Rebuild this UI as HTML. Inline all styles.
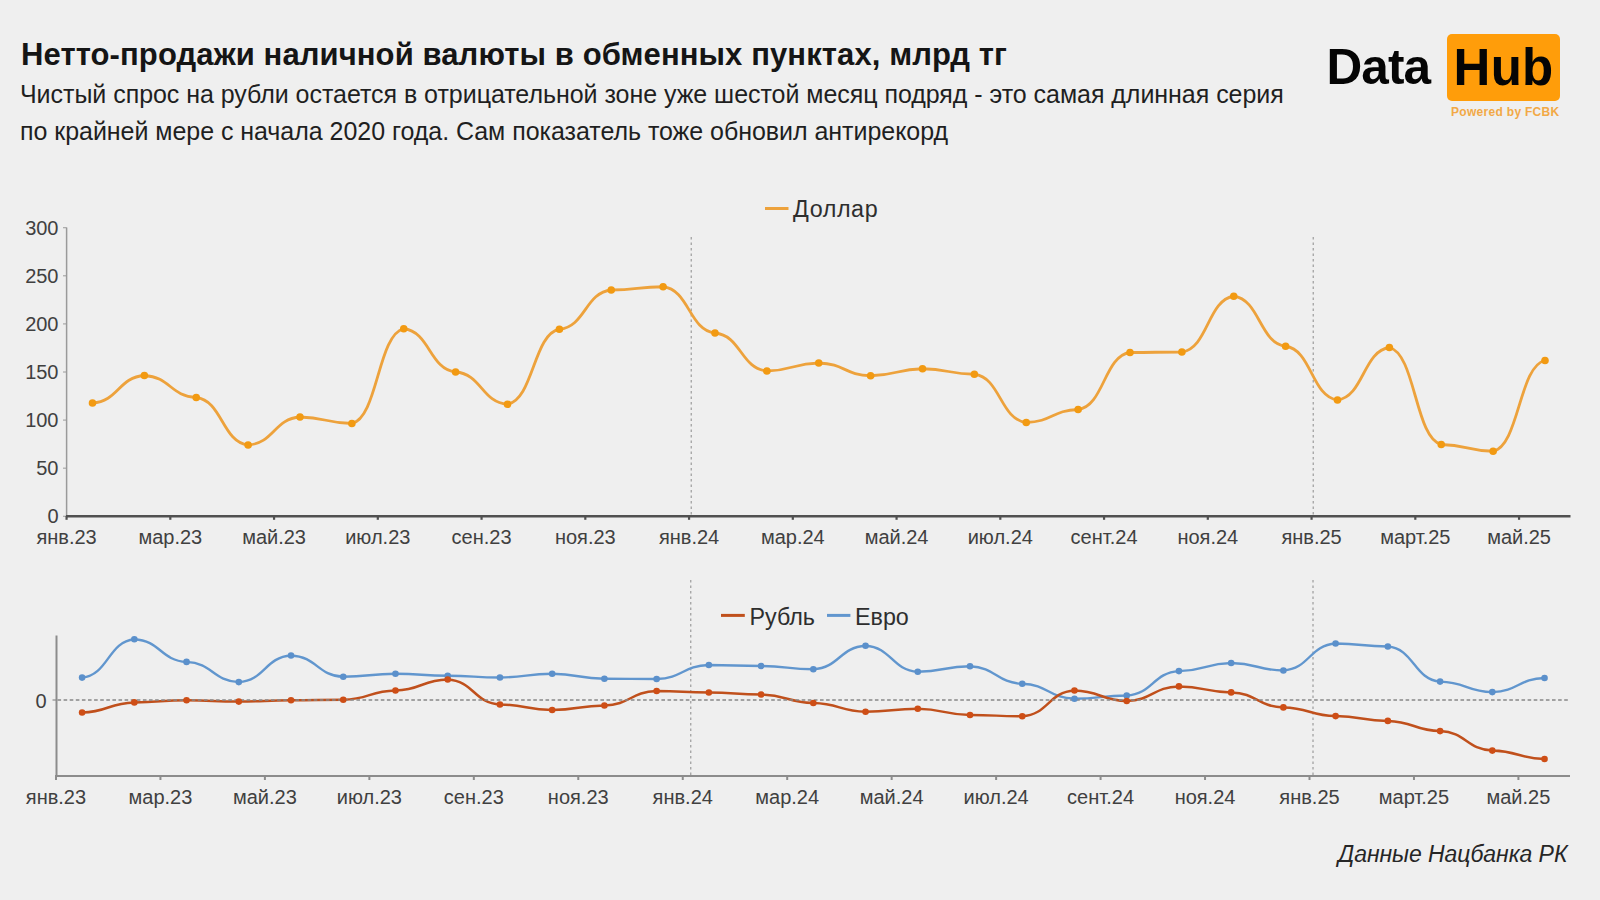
<!DOCTYPE html>
<html><head><meta charset="utf-8"><style>
html,body{margin:0;padding:0;}
body{width:1600px;height:900px;background:#efefef;position:relative;overflow:hidden;font-family:"Liberation Sans",sans-serif;}
.t{position:absolute;white-space:nowrap;}
#title{left:21px;top:39.2px;font-size:31px;letter-spacing:0.1px;line-height:1;font-weight:bold;color:#151515;}
#sub{left:20px;top:76.1px;font-size:25px;letter-spacing:-0.04px;color:#1f1f1f;line-height:37px;}
#src{left:1338px;top:842.5px;letter-spacing:-0.05px;font-size:23px;line-height:1;font-style:italic;color:#262626;}
svg{position:absolute;left:0;top:0;}
.ax{font-family:"Liberation Sans",sans-serif;font-size:20px;fill:#404040;}
.lg{font-family:"Liberation Sans",sans-serif;font-size:23.3px;fill:#2e2e2e;}
#logo1{left:1326.5px;top:41.9px;line-height:1;font-size:49.5px;letter-spacing:-0.9px;font-weight:bold;color:#050505;}
#hubbox{position:absolute;left:1446.5px;top:33.7px;width:113.5px;height:67px;background:#ff9d0a;border-radius:5px;}
#logo2{left:1453.5px;top:41.9px;line-height:1;font-size:51px;letter-spacing:0.3px;font-weight:bold;color:#050505;}
#pw{left:1451px;top:105.7px;line-height:1;font-size:12px;font-weight:bold;color:#f2a946;letter-spacing:0.3px;}
</style></head><body>
<div class="t" id="title">Нетто-продажи наличной валюты в обменных пунктах, млрд тг</div>
<div class="t" id="sub">Чистый спрос на рубли остается в отрицательной зоне уже шестой месяц подряд - это самая длинная серия<br>по крайней мере с начала 2020 года. Сам показатель тоже обновил антирекорд</div>
<div class="t" id="logo1">Data</div>
<div id="hubbox"></div>
<div class="t" id="logo2">Hub</div>
<div class="t" id="pw">Powered by FCBK</div>
<svg width="1600" height="900" viewBox="0 0 1600 900">
<line x1="66.6" y1="227.5" x2="66.6" y2="516" stroke="#9a9a9a" stroke-width="1.5"/>
<line x1="63" y1="516.25" x2="66.6" y2="516.25" stroke="#9a9a9a" stroke-width="1"/>
<text x="58.5" y="523.45" text-anchor="end" class="ax">0</text>
<line x1="63" y1="468.17" x2="66.6" y2="468.17" stroke="#9a9a9a" stroke-width="1"/>
<text x="58.5" y="475.37" text-anchor="end" class="ax">50</text>
<line x1="63" y1="420.08" x2="66.6" y2="420.08" stroke="#9a9a9a" stroke-width="1"/>
<text x="58.5" y="427.28" text-anchor="end" class="ax">100</text>
<line x1="63" y1="372.00" x2="66.6" y2="372.00" stroke="#9a9a9a" stroke-width="1"/>
<text x="58.5" y="379.19" text-anchor="end" class="ax">150</text>
<line x1="63" y1="323.91" x2="66.6" y2="323.91" stroke="#9a9a9a" stroke-width="1"/>
<text x="58.5" y="331.11" text-anchor="end" class="ax">200</text>
<line x1="63" y1="275.82" x2="66.6" y2="275.82" stroke="#9a9a9a" stroke-width="1"/>
<text x="58.5" y="283.02" text-anchor="end" class="ax">250</text>
<line x1="63" y1="227.74" x2="66.6" y2="227.74" stroke="#9a9a9a" stroke-width="1"/>
<text x="58.5" y="234.94" text-anchor="end" class="ax">300</text>
<line x1="691.2" y1="237" x2="691.2" y2="515" stroke="#8a8a8a" stroke-width="1" stroke-dasharray="2.5,3"/>
<line x1="1313.2" y1="237" x2="1313.2" y2="515" stroke="#8a8a8a" stroke-width="1" stroke-dasharray="2.5,3"/>
<line x1="66" y1="516.25" x2="1570.5" y2="516.25" stroke="#505050" stroke-width="2.5"/>
<line x1="66.56" y1="516" x2="66.56" y2="519.8" stroke="#505050" stroke-width="2.2"/>
<text x="66.56" y="544.3" text-anchor="middle" class="ax">янв.23</text>
<line x1="170.31" y1="516" x2="170.31" y2="519.8" stroke="#505050" stroke-width="2.2"/>
<text x="170.31" y="544.3" text-anchor="middle" class="ax">мар.23</text>
<line x1="274.06" y1="516" x2="274.06" y2="519.8" stroke="#505050" stroke-width="2.2"/>
<text x="274.06" y="544.3" text-anchor="middle" class="ax">май.23</text>
<line x1="377.81" y1="516" x2="377.81" y2="519.8" stroke="#505050" stroke-width="2.2"/>
<text x="377.81" y="544.3" text-anchor="middle" class="ax">июл.23</text>
<line x1="481.56" y1="516" x2="481.56" y2="519.8" stroke="#505050" stroke-width="2.2"/>
<text x="481.56" y="544.3" text-anchor="middle" class="ax">сен.23</text>
<line x1="585.31" y1="516" x2="585.31" y2="519.8" stroke="#505050" stroke-width="2.2"/>
<text x="585.31" y="544.3" text-anchor="middle" class="ax">ноя.23</text>
<line x1="689.06" y1="516" x2="689.06" y2="519.8" stroke="#505050" stroke-width="2.2"/>
<text x="689.06" y="544.3" text-anchor="middle" class="ax">янв.24</text>
<line x1="792.81" y1="516" x2="792.81" y2="519.8" stroke="#505050" stroke-width="2.2"/>
<text x="792.81" y="544.3" text-anchor="middle" class="ax">мар.24</text>
<line x1="896.56" y1="516" x2="896.56" y2="519.8" stroke="#505050" stroke-width="2.2"/>
<text x="896.56" y="544.3" text-anchor="middle" class="ax">май.24</text>
<line x1="1000.31" y1="516" x2="1000.31" y2="519.8" stroke="#505050" stroke-width="2.2"/>
<text x="1000.31" y="544.3" text-anchor="middle" class="ax">июл.24</text>
<line x1="1104.06" y1="516" x2="1104.06" y2="519.8" stroke="#505050" stroke-width="2.2"/>
<text x="1104.06" y="544.3" text-anchor="middle" class="ax">сент.24</text>
<line x1="1207.81" y1="516" x2="1207.81" y2="519.8" stroke="#505050" stroke-width="2.2"/>
<text x="1207.81" y="544.3" text-anchor="middle" class="ax">ноя.24</text>
<line x1="1311.56" y1="516" x2="1311.56" y2="519.8" stroke="#505050" stroke-width="2.2"/>
<text x="1311.56" y="544.3" text-anchor="middle" class="ax">янв.25</text>
<line x1="1415.31" y1="516" x2="1415.31" y2="519.8" stroke="#505050" stroke-width="2.2"/>
<text x="1415.31" y="544.3" text-anchor="middle" class="ax">март.25</text>
<line x1="1519.06" y1="516" x2="1519.06" y2="519.8" stroke="#505050" stroke-width="2.2"/>
<text x="1519.06" y="544.3" text-anchor="middle" class="ax">май.25</text>
<path d="M92.50,403.00 C118.44,401.35 118.44,377.15 144.38,375.50 C170.31,376.82 170.31,396.18 196.25,397.50 C222.19,400.35 222.19,442.15 248.12,445.00 C274.06,443.32 274.06,418.68 300.00,417.00 C325.94,417.39 325.94,423.11 351.88,423.50 C377.81,417.81 377.81,334.44 403.75,328.75 C429.69,331.35 429.69,369.40 455.62,372.00 C481.56,373.94 481.56,402.31 507.50,404.25 C533.44,399.75 533.44,333.75 559.38,329.25 C585.31,326.89 585.31,292.36 611.25,290.00 C637.19,289.81 637.19,286.94 663.12,286.75 C689.06,289.52 689.06,330.23 715.00,333.00 C740.94,335.28 740.94,368.72 766.88,371.00 C792.81,370.52 792.81,363.48 818.75,363.00 C844.69,363.76 844.69,374.99 870.62,375.75 C896.56,375.33 896.56,369.17 922.50,368.75 C948.44,369.08 948.44,373.92 974.38,374.25 C1000.31,377.14 1000.31,419.61 1026.25,422.50 C1052.19,421.72 1052.19,410.28 1078.12,409.50 C1104.06,406.08 1104.06,355.92 1130.00,352.50 C1155.94,352.47 1155.94,352.03 1181.88,352.00 C1207.81,348.65 1207.81,299.60 1233.75,296.25 C1259.69,299.25 1259.69,343.25 1285.62,346.25 C1311.56,349.48 1311.56,396.77 1337.50,400.00 C1363.44,396.85 1363.44,350.65 1389.38,347.50 C1415.31,353.32 1415.31,438.68 1441.25,444.50 C1467.19,444.90 1467.19,450.85 1493.12,451.25 C1519.06,445.81 1519.06,365.94 1545.00,360.50" fill="none" stroke="#EDA23C" stroke-width="2.8"/>
<circle cx="92.50" cy="403.00" r="3.8" fill="#F29A12"/>
<circle cx="144.38" cy="375.50" r="3.8" fill="#F29A12"/>
<circle cx="196.25" cy="397.50" r="3.8" fill="#F29A12"/>
<circle cx="248.12" cy="445.00" r="3.8" fill="#F29A12"/>
<circle cx="300.00" cy="417.00" r="3.8" fill="#F29A12"/>
<circle cx="351.88" cy="423.50" r="3.8" fill="#F29A12"/>
<circle cx="403.75" cy="328.75" r="3.8" fill="#F29A12"/>
<circle cx="455.62" cy="372.00" r="3.8" fill="#F29A12"/>
<circle cx="507.50" cy="404.25" r="3.8" fill="#F29A12"/>
<circle cx="559.38" cy="329.25" r="3.8" fill="#F29A12"/>
<circle cx="611.25" cy="290.00" r="3.8" fill="#F29A12"/>
<circle cx="663.12" cy="286.75" r="3.8" fill="#F29A12"/>
<circle cx="715.00" cy="333.00" r="3.8" fill="#F29A12"/>
<circle cx="766.88" cy="371.00" r="3.8" fill="#F29A12"/>
<circle cx="818.75" cy="363.00" r="3.8" fill="#F29A12"/>
<circle cx="870.62" cy="375.75" r="3.8" fill="#F29A12"/>
<circle cx="922.50" cy="368.75" r="3.8" fill="#F29A12"/>
<circle cx="974.38" cy="374.25" r="3.8" fill="#F29A12"/>
<circle cx="1026.25" cy="422.50" r="3.8" fill="#F29A12"/>
<circle cx="1078.12" cy="409.50" r="3.8" fill="#F29A12"/>
<circle cx="1130.00" cy="352.50" r="3.8" fill="#F29A12"/>
<circle cx="1181.88" cy="352.00" r="3.8" fill="#F29A12"/>
<circle cx="1233.75" cy="296.25" r="3.8" fill="#F29A12"/>
<circle cx="1285.62" cy="346.25" r="3.8" fill="#F29A12"/>
<circle cx="1337.50" cy="400.00" r="3.8" fill="#F29A12"/>
<circle cx="1389.38" cy="347.50" r="3.8" fill="#F29A12"/>
<circle cx="1441.25" cy="444.50" r="3.8" fill="#F29A12"/>
<circle cx="1493.12" cy="451.25" r="3.8" fill="#F29A12"/>
<circle cx="1545.00" cy="360.50" r="3.8" fill="#F29A12"/>
<line x1="765" y1="208.5" x2="788.5" y2="208.5" stroke="#EDA23C" stroke-width="3"/>
<text x="793" y="217" class="lg" letter-spacing="0.6">Доллар</text>
<line x1="56.5" y1="635.5" x2="56.5" y2="776.5" stroke="#8c8c8c" stroke-width="2"/>
<text x="46.5" y="708" text-anchor="end" class="ax">0</text>
<line x1="52.5" y1="700" x2="56.5" y2="700" stroke="#8c8c8c" stroke-width="1.2"/>
<line x1="690.8" y1="580" x2="690.8" y2="775" stroke="#8a8a8a" stroke-width="1" stroke-dasharray="2.5,3"/>
<line x1="1313.0" y1="580" x2="1313.0" y2="775" stroke="#8a8a8a" stroke-width="1" stroke-dasharray="2.5,3"/>
<line x1="55.5" y1="776" x2="1570" y2="776" stroke="#8c8c8c" stroke-width="2"/>
<line x1="55.98" y1="775" x2="55.98" y2="780" stroke="#8c8c8c" stroke-width="2"/>
<text x="55.98" y="804.3" text-anchor="middle" class="ax">янв.23</text>
<line x1="160.44" y1="775" x2="160.44" y2="780" stroke="#8c8c8c" stroke-width="2"/>
<text x="160.44" y="804.3" text-anchor="middle" class="ax">мар.23</text>
<line x1="264.90" y1="775" x2="264.90" y2="780" stroke="#8c8c8c" stroke-width="2"/>
<text x="264.90" y="804.3" text-anchor="middle" class="ax">май.23</text>
<line x1="369.37" y1="775" x2="369.37" y2="780" stroke="#8c8c8c" stroke-width="2"/>
<text x="369.37" y="804.3" text-anchor="middle" class="ax">июл.23</text>
<line x1="473.82" y1="775" x2="473.82" y2="780" stroke="#8c8c8c" stroke-width="2"/>
<text x="473.82" y="804.3" text-anchor="middle" class="ax">сен.23</text>
<line x1="578.28" y1="775" x2="578.28" y2="780" stroke="#8c8c8c" stroke-width="2"/>
<text x="578.28" y="804.3" text-anchor="middle" class="ax">ноя.23</text>
<line x1="682.75" y1="775" x2="682.75" y2="780" stroke="#8c8c8c" stroke-width="2"/>
<text x="682.75" y="804.3" text-anchor="middle" class="ax">янв.24</text>
<line x1="787.20" y1="775" x2="787.20" y2="780" stroke="#8c8c8c" stroke-width="2"/>
<text x="787.20" y="804.3" text-anchor="middle" class="ax">мар.24</text>
<line x1="891.66" y1="775" x2="891.66" y2="780" stroke="#8c8c8c" stroke-width="2"/>
<text x="891.66" y="804.3" text-anchor="middle" class="ax">май.24</text>
<line x1="996.12" y1="775" x2="996.12" y2="780" stroke="#8c8c8c" stroke-width="2"/>
<text x="996.12" y="804.3" text-anchor="middle" class="ax">июл.24</text>
<line x1="1100.58" y1="775" x2="1100.58" y2="780" stroke="#8c8c8c" stroke-width="2"/>
<text x="1100.58" y="804.3" text-anchor="middle" class="ax">сент.24</text>
<line x1="1205.04" y1="775" x2="1205.04" y2="780" stroke="#8c8c8c" stroke-width="2"/>
<text x="1205.04" y="804.3" text-anchor="middle" class="ax">ноя.24</text>
<line x1="1309.50" y1="775" x2="1309.50" y2="780" stroke="#8c8c8c" stroke-width="2"/>
<text x="1309.50" y="804.3" text-anchor="middle" class="ax">янв.25</text>
<line x1="1413.96" y1="775" x2="1413.96" y2="780" stroke="#8c8c8c" stroke-width="2"/>
<text x="1413.96" y="804.3" text-anchor="middle" class="ax">март.25</text>
<line x1="1518.42" y1="775" x2="1518.42" y2="780" stroke="#8c8c8c" stroke-width="2"/>
<text x="1518.42" y="804.3" text-anchor="middle" class="ax">май.25</text>
<path d="M82.10,677.60 C108.21,675.30 108.21,641.50 134.33,639.20 C160.44,640.56 160.44,660.54 186.56,661.90 C212.68,663.11 212.68,680.89 238.79,682.10 C264.90,680.50 264.90,657.10 291.02,655.50 C317.13,656.78 317.13,675.52 343.25,676.80 C369.37,676.62 369.37,673.98 395.48,673.80 C421.59,673.92 421.59,675.63 447.71,675.75 C473.82,675.86 473.82,677.39 499.94,677.50 C526.05,677.27 526.05,673.98 552.17,673.75 C578.28,674.05 578.28,678.45 604.40,678.75 C630.51,678.76 630.51,678.99 656.63,679.00 C682.75,678.16 682.75,665.84 708.86,665.00 C734.98,665.06 734.98,665.94 761.09,666.00 C787.20,666.20 787.20,669.05 813.32,669.25 C839.43,667.84 839.43,647.16 865.55,645.75 C891.66,647.31 891.66,670.19 917.78,671.75 C943.89,671.42 943.89,666.58 970.01,666.25 C996.12,667.30 996.12,682.70 1022.24,683.75 C1048.36,684.65 1048.36,697.85 1074.47,698.75 C1100.58,698.55 1100.58,695.70 1126.70,695.50 C1152.81,694.04 1152.81,672.56 1178.93,671.10 C1205.04,670.61 1205.04,663.49 1231.16,663.00 C1257.27,663.45 1257.27,670.05 1283.39,670.50 C1309.50,668.88 1309.50,645.12 1335.62,643.50 C1361.73,643.68 1361.73,646.32 1387.85,646.50 C1413.96,648.61 1413.96,679.49 1440.08,681.60 C1466.19,682.23 1466.19,691.47 1492.31,692.10 C1518.42,691.25 1518.42,678.85 1544.54,678.00" fill="none" stroke="#6196CE" stroke-width="2.4"/>
<path d="M82.10,712.50 C108.21,711.89 108.21,703.01 134.33,702.40 C160.44,702.27 160.44,700.43 186.56,700.30 C212.68,700.38 212.68,701.52 238.79,701.60 C264.90,701.52 264.90,700.38 291.02,700.30 C317.13,700.26 317.13,699.74 343.25,699.70 C369.37,699.15 369.37,691.05 395.48,690.50 C421.59,689.84 421.59,680.16 447.71,679.50 C473.82,681.00 473.82,703.00 499.94,704.50 C526.05,704.83 526.05,709.67 552.17,710.00 C578.28,709.73 578.28,705.77 604.40,705.50 C630.51,704.63 630.51,691.87 656.63,691.00 C682.75,691.09 682.75,692.41 708.86,692.50 C734.98,692.62 734.98,694.38 761.09,694.50 C787.20,695.01 787.20,702.49 813.32,703.00 C839.43,703.52 839.43,711.23 865.55,711.75 C891.66,711.57 891.66,708.93 917.78,708.75 C943.89,709.12 943.89,714.62 970.01,715.00 C996.12,715.08 996.12,716.17 1022.24,716.25 C1048.36,714.71 1048.36,692.04 1074.47,690.50 C1100.58,691.13 1100.58,700.37 1126.70,701.00 C1152.81,700.12 1152.81,687.28 1178.93,686.40 C1205.04,686.76 1205.04,692.04 1231.16,692.40 C1257.27,693.30 1257.27,706.50 1283.39,707.40 C1309.50,707.92 1309.50,715.58 1335.62,716.10 C1361.73,716.39 1361.73,720.61 1387.85,720.90 C1413.96,721.51 1413.96,730.49 1440.08,731.10 C1466.19,732.27 1466.19,749.43 1492.31,750.60 C1518.42,751.10 1518.42,758.50 1544.54,759.00" fill="none" stroke="#C0501C" stroke-width="2.5"/>
<line x1="57.5" y1="700" x2="1569.5" y2="700" stroke="#888888" stroke-width="1.6" stroke-dasharray="3.6,2.5"/>
<circle cx="82.10" cy="677.60" r="3.3" fill="#5B90CB"/>
<circle cx="134.33" cy="639.20" r="3.3" fill="#5B90CB"/>
<circle cx="186.56" cy="661.90" r="3.3" fill="#5B90CB"/>
<circle cx="238.79" cy="682.10" r="3.3" fill="#5B90CB"/>
<circle cx="291.02" cy="655.50" r="3.3" fill="#5B90CB"/>
<circle cx="343.25" cy="676.80" r="3.3" fill="#5B90CB"/>
<circle cx="395.48" cy="673.80" r="3.3" fill="#5B90CB"/>
<circle cx="447.71" cy="675.75" r="3.3" fill="#5B90CB"/>
<circle cx="499.94" cy="677.50" r="3.3" fill="#5B90CB"/>
<circle cx="552.17" cy="673.75" r="3.3" fill="#5B90CB"/>
<circle cx="604.40" cy="678.75" r="3.3" fill="#5B90CB"/>
<circle cx="656.63" cy="679.00" r="3.3" fill="#5B90CB"/>
<circle cx="708.86" cy="665.00" r="3.3" fill="#5B90CB"/>
<circle cx="761.09" cy="666.00" r="3.3" fill="#5B90CB"/>
<circle cx="813.32" cy="669.25" r="3.3" fill="#5B90CB"/>
<circle cx="865.55" cy="645.75" r="3.3" fill="#5B90CB"/>
<circle cx="917.78" cy="671.75" r="3.3" fill="#5B90CB"/>
<circle cx="970.01" cy="666.25" r="3.3" fill="#5B90CB"/>
<circle cx="1022.24" cy="683.75" r="3.3" fill="#5B90CB"/>
<circle cx="1074.47" cy="698.75" r="3.3" fill="#5B90CB"/>
<circle cx="1126.70" cy="695.50" r="3.3" fill="#5B90CB"/>
<circle cx="1178.93" cy="671.10" r="3.3" fill="#5B90CB"/>
<circle cx="1231.16" cy="663.00" r="3.3" fill="#5B90CB"/>
<circle cx="1283.39" cy="670.50" r="3.3" fill="#5B90CB"/>
<circle cx="1335.62" cy="643.50" r="3.3" fill="#5B90CB"/>
<circle cx="1387.85" cy="646.50" r="3.3" fill="#5B90CB"/>
<circle cx="1440.08" cy="681.60" r="3.3" fill="#5B90CB"/>
<circle cx="1492.31" cy="692.10" r="3.3" fill="#5B90CB"/>
<circle cx="1544.54" cy="678.00" r="3.3" fill="#5B90CB"/>
<circle cx="82.10" cy="712.50" r="3.3" fill="#CE4E16"/>
<circle cx="134.33" cy="702.40" r="3.3" fill="#CE4E16"/>
<circle cx="186.56" cy="700.30" r="3.3" fill="#CE4E16"/>
<circle cx="238.79" cy="701.60" r="3.3" fill="#CE4E16"/>
<circle cx="291.02" cy="700.30" r="3.3" fill="#CE4E16"/>
<circle cx="343.25" cy="699.70" r="3.3" fill="#CE4E16"/>
<circle cx="395.48" cy="690.50" r="3.3" fill="#CE4E16"/>
<circle cx="447.71" cy="679.50" r="3.3" fill="#CE4E16"/>
<circle cx="499.94" cy="704.50" r="3.3" fill="#CE4E16"/>
<circle cx="552.17" cy="710.00" r="3.3" fill="#CE4E16"/>
<circle cx="604.40" cy="705.50" r="3.3" fill="#CE4E16"/>
<circle cx="656.63" cy="691.00" r="3.3" fill="#CE4E16"/>
<circle cx="708.86" cy="692.50" r="3.3" fill="#CE4E16"/>
<circle cx="761.09" cy="694.50" r="3.3" fill="#CE4E16"/>
<circle cx="813.32" cy="703.00" r="3.3" fill="#CE4E16"/>
<circle cx="865.55" cy="711.75" r="3.3" fill="#CE4E16"/>
<circle cx="917.78" cy="708.75" r="3.3" fill="#CE4E16"/>
<circle cx="970.01" cy="715.00" r="3.3" fill="#CE4E16"/>
<circle cx="1022.24" cy="716.25" r="3.3" fill="#CE4E16"/>
<circle cx="1074.47" cy="690.50" r="3.3" fill="#CE4E16"/>
<circle cx="1126.70" cy="701.00" r="3.3" fill="#CE4E16"/>
<circle cx="1178.93" cy="686.40" r="3.3" fill="#CE4E16"/>
<circle cx="1231.16" cy="692.40" r="3.3" fill="#CE4E16"/>
<circle cx="1283.39" cy="707.40" r="3.3" fill="#CE4E16"/>
<circle cx="1335.62" cy="716.10" r="3.3" fill="#CE4E16"/>
<circle cx="1387.85" cy="720.90" r="3.3" fill="#CE4E16"/>
<circle cx="1440.08" cy="731.10" r="3.3" fill="#CE4E16"/>
<circle cx="1492.31" cy="750.60" r="3.3" fill="#CE4E16"/>
<circle cx="1544.54" cy="759.00" r="3.3" fill="#CE4E16"/>
<line x1="721" y1="615.4" x2="744.8" y2="615.4" stroke="#C0501C" stroke-width="3"/>
<text x="749.5" y="625" class="lg">Рубль</text>
<line x1="827" y1="615.4" x2="850.4" y2="615.4" stroke="#6196CE" stroke-width="3"/>
<text x="855" y="625" class="lg">Евро</text>
</svg>
<div class="t" id="src">Данные Нацбанка РК</div>
</body></html>
